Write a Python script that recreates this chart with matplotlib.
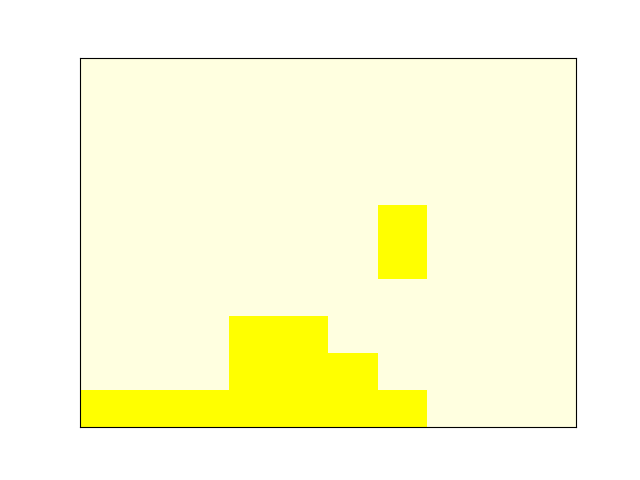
import matplotlib
matplotlib.use("Agg")
import matplotlib.pyplot as plt
import numpy as np
from matplotlib.colors import ListedColormap

# filled cells per row (row 0 = bottom), 10x10 grid
row0 = [0, 1, 2, 3, 4, 5, 6]
row1 = [3, 4, 5]
row2 = [3, 4]
row4 = [6]
row5 = [6]

grid = np.zeros((10, 10))
for r, cols in [(0, row0), (1, row1), (2, row2), (4, row4), (5, row5)]:
    for c in cols:
        grid[r, c] = 1

fig, ax = plt.subplots(figsize=(6.4, 4.8), dpi=100)
cmap = ListedColormap(['lightyellow', 'yellow'])
ax.pcolormesh(np.arange(11), np.arange(11), grid, cmap=cmap, vmin=0, vmax=1)
ax.set_xlim(0, 10)
ax.set_ylim(0, 10)
ax.set_xticks([])
ax.set_yticks([])
plt.savefig('out.png')
